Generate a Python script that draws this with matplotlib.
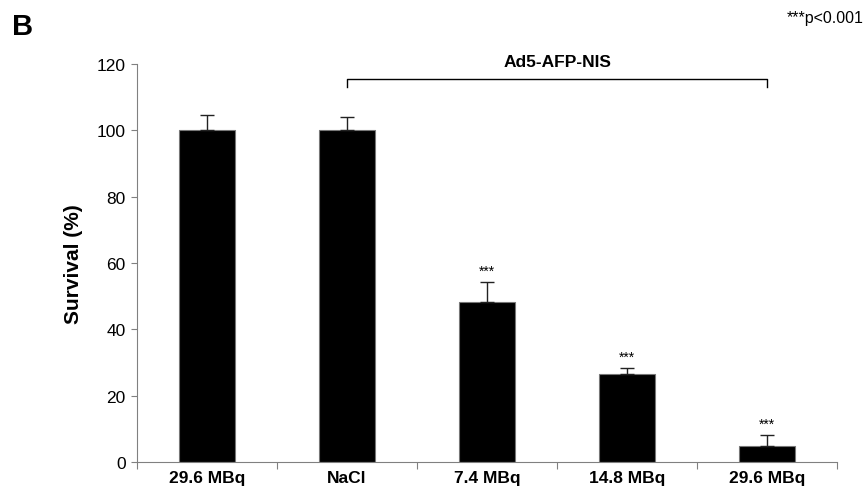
import numpy as np
import matplotlib.pyplot as plt

plt.rcParams["font.family"] = ["Liberation Sans", "DejaVu Sans"]

categories = ["29.6 MBq", "NaCl", "7.4 MBq", "14.8 MBq", "29.6 MBq"]
survival = [100.2, 100.2, 48.2, 26.6, 4.9]
sem = [4.5, 3.8, 6.1, 1.6, 3.3]
stars = ["", "", "***", "***", "***"]

fig = plt.figure(figsize=(8.65, 4.89), dpi=100)
ax = fig.add_axes([0.158, 0.0532, 0.81, 0.8138])

x = np.arange(len(categories))
ax.bar(x, survival, width=0.4, color="black", edgecolor="#777777", linewidth=0.8, zorder=2)
ax.errorbar(x, survival, yerr=[np.zeros(len(sem)), sem], fmt="none",
            ecolor="#222222", elinewidth=1, capsize=5, capthick=1, zorder=3)

for xi, v, e, s in zip(x, survival, sem, stars):
    if s:
        ax.text(xi, v + e + 1.3, s, ha="center", va="bottom", fontsize=10)

ax.set_xlim(-0.5, len(categories) - 0.5)
ax.set_ylim(0, 120)
ax.set_yticks(np.arange(0, 121, 20))
ax.set_xticks(np.arange(-0.5, len(categories) - 0.4, 1))
ax.set_xticklabels([])
ax.set_xticks(x, minor=True)
ax.set_xticklabels(categories, minor=True, fontweight="bold", fontsize=12.5)
ax.tick_params(axis="x", which="minor", length=0, pad=6)
ax.tick_params(axis="x", which="major", length=5, color="#808080", direction="out")
ax.tick_params(axis="y", length=4, color="#808080", labelsize=12.5, pad=4)

for side in ["top", "right"]:
    ax.spines[side].set_visible(False)
for side in ["left", "bottom"]:
    ax.spines[side].set_color("#808080")
    ax.spines[side].set_linewidth(0.8)

ax.set_ylabel("Survival (%)", fontsize=15, fontweight="bold", labelpad=10)

# bracket for the Ad5-AFP-NIS group
y_br = 115.5
ax.plot([1, 1, 4, 4], [y_br - 2.5, y_br, y_br, y_br - 2.5], color="black",
        linewidth=1, clip_on=False)
ax.text(2.5, y_br + 3, "Ad5-AFP-NIS", ha="center", va="bottom",
        fontsize=12.5, fontweight="bold")

fig.text(0.014, 0.944, "B", fontsize=21, fontweight="bold", va="center")
fig.text(0.999, 0.962, "***p<0.001", fontsize=11.5, ha="right", va="center")

fig.savefig("out.png", dpi=100)
